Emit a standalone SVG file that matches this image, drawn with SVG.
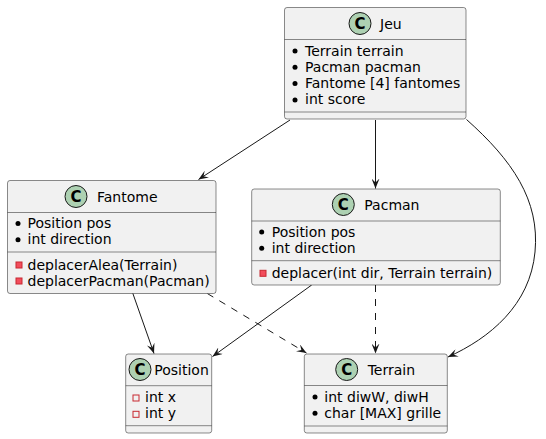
<svg xmlns="http://www.w3.org/2000/svg" width="546" height="439" viewBox="0 0 546 439">
<defs>
<style>
.box{fill:#F1F1F1;stroke:#181818;stroke-width:0.5}
.sep{stroke:#181818;stroke-width:0.5}
.t{font-family:"DejaVu Sans","Liberation Sans",sans-serif;font-size:14px;fill:#000}
.ci{fill:#ADD1B2;stroke:#181818;stroke-width:1}
.cl{font-family:"DejaVu Sans","Liberation Sans",sans-serif;font-size:15px;font-weight:bold;fill:#000;text-anchor:middle}
.b{fill:#000}
.m{fill:#F24D5C;stroke:#C82930;stroke-width:1}
.f{fill:none;stroke:#C82930;stroke-width:1}
.e{fill:none;stroke:#181818;stroke-width:1}
.d{stroke-dasharray:7,7}
</style>
<marker id="ah" viewBox="0 0 10 8" refX="10" refY="4" markerWidth="10" markerHeight="8" markerUnits="userSpaceOnUse" orient="auto">
<path d="M0,0 L10,4 L0,8 L4,4 Z" fill="#181818"/>
</marker>
</defs>
<g id="connectors">
<path class="e" d="M290,120 L198.5,179.5" marker-end="url(#ah)"/>
<path class="e" d="M375.5,120 L375.5,188.5" marker-end="url(#ah)"/>
<path class="e" d="M466.5,119.5 C512,160 540,200 535,252 C530,305 490,338 448,357" marker-end="url(#ah)"/>
<path class="e" d="M132.7,293 L154,353.5" marker-end="url(#ah)"/>
<path class="e d" d="M207.3,293.5 L306.5,353" marker-end="url(#ah)"/>
<path class="e" d="M311.7,285 L212.5,356.5" marker-end="url(#ah)"/>
<path class="e d" d="M375.5,285 L375.5,353.5" marker-end="url(#ah)"/>
</g>
<g id="Jeu">
<rect class="box" x="284.5" y="7.5" width="181.5" height="111.5" rx="2.5"/>
<circle class="ci" cx="360" cy="23.5" r="11"/>
<text class="cl" x="360" y="28.8">C</text>
<text class="t" x="380" y="28.5">Jeu</text>
<line class="sep" x1="284.5" y1="39.5" x2="466" y2="39.5"/>
<circle class="b" cx="295" cy="51" r="2.5"/>
<text class="t" x="305" y="55.5">Terrain terrain</text>
<circle class="b" cx="295" cy="67.3" r="2.5"/>
<text class="t" x="305" y="71.8">Pacman pacman</text>
<circle class="b" cx="295" cy="83.6" r="2.5"/>
<text class="t" x="305" y="88.1">Fantome [4] fantomes</text>
<circle class="b" cx="295" cy="99.9" r="2.5"/>
<text class="t" x="305" y="104.4">int score</text>
<line class="sep" x1="284.5" y1="112" x2="466" y2="112"/>
</g>
<g id="Fantome">
<rect class="box" x="7.5" y="180.5" width="208.5" height="113" rx="2.5"/>
<circle class="ci" cx="76" cy="196.5" r="11"/>
<text class="cl" x="76" y="201.8">C</text>
<text class="t" x="97" y="201.5">Fantome</text>
<line class="sep" x1="7.5" y1="212.5" x2="216" y2="212.5"/>
<circle class="b" cx="18" cy="223.5" r="2.5"/>
<text class="t" x="27.5" y="228">Position pos</text>
<circle class="b" cx="18" cy="239.8" r="2.5"/>
<text class="t" x="27.5" y="244.3">int direction</text>
<line class="sep" x1="7.5" y1="252" x2="216" y2="252"/>
<rect class="m" x="16" y="262" width="6" height="6"/>
<text class="t" x="27.5" y="269.5">deplacerAlea(Terrain)</text>
<rect class="m" x="16" y="278" width="6" height="6"/>
<text class="t" x="27.5" y="285.5">deplacerPacman(Pacman)</text>
</g>
<g id="Pacman">
<rect class="box" x="251.7" y="189" width="248.6" height="96" rx="2.5"/>
<circle class="ci" cx="343.3" cy="204.5" r="11"/>
<text class="cl" x="343.3" y="209.8">C</text>
<text class="t" x="364.3" y="209.5">Pacman</text>
<line class="sep" x1="251.7" y1="221" x2="500.3" y2="221"/>
<circle class="b" cx="261.7" cy="232" r="2.5"/>
<text class="t" x="271.7" y="236.5">Position pos</text>
<circle class="b" cx="261.7" cy="248.3" r="2.5"/>
<text class="t" x="271.7" y="252.8">int direction</text>
<line class="sep" x1="251.7" y1="260.7" x2="500.3" y2="260.7"/>
<rect class="m" x="260" y="270.3" width="6" height="6"/>
<text class="t" x="271.7" y="277.5">deplacer(int dir, Terrain terrain)</text>
</g>
<g id="Position">
<rect class="box" x="125.7" y="354" width="86" height="79" rx="2.5"/>
<circle class="ci" cx="140" cy="369.5" r="11"/>
<text class="cl" x="140" y="374.8">C</text>
<text class="t" x="154.3" y="374.5">Position</text>
<line class="sep" x1="125.7" y1="385.7" x2="211.7" y2="385.7"/>
<rect class="f" x="133" y="395" width="6" height="6"/>
<text class="t" x="145" y="402">int x</text>
<rect class="f" x="133" y="411.3" width="6" height="6"/>
<text class="t" x="145" y="418.3">int y</text>
<line class="sep" x1="125.7" y1="425.7" x2="211.7" y2="425.7"/>
</g>
<g id="Terrain">
<rect class="box" x="304.3" y="354" width="143" height="79" rx="2.5"/>
<circle class="ci" cx="346.7" cy="369.5" r="11"/>
<text class="cl" x="346.7" y="374.8">C</text>
<text class="t" x="367.7" y="374.5">Terrain</text>
<line class="sep" x1="304.3" y1="385.5" x2="447.3" y2="385.5"/>
<circle class="b" cx="315" cy="397" r="2.5"/>
<text class="t" x="324.3" y="401.5">int diwW, diwH</text>
<circle class="b" cx="315" cy="413.3" r="2.5"/>
<text class="t" x="324.3" y="417.8">char [MAX] grille</text>
<line class="sep" x1="304.3" y1="426" x2="447.3" y2="426"/>
</g>
</svg>
